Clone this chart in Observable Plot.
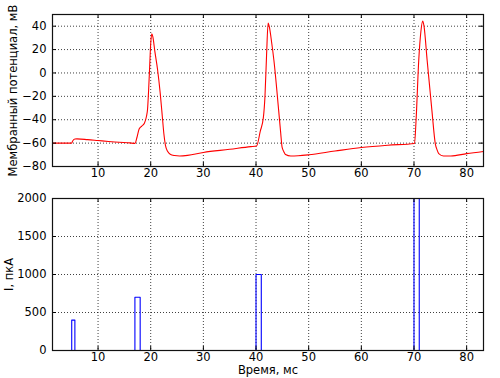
<!DOCTYPE html>
<html>
<head>
<meta charset="utf-8">
<script src="https://cdn.jsdelivr.net/npm/d3@7"></script>
<script src="https://cdn.jsdelivr.net/npm/@observablehq/plot@0.6"></script>
<style>
  html, body { margin: 0; padding: 0; background: white; }
  #chart svg { display: block; }
</style>
</head>
<body>
<div id="chart"></div>
<script>
// Membrane potential trace (time in ms, potential in mV)
const tV = [1.35, 5.0, 5.15, 5.6, 6, 8, 10, 12, 14, 16, 17.0, 17.4, 17.8, 18.3, 18.8, 19.2, 19.4, 19.6, 19.8, 20.0, 20.2, 20.4, 20.8, 21.3, 21.8, 22.2, 22.5, 22.8, 23.2, 23.7, 24.5, 25.5, 27, 30, 35, 39, 40.1,
  40.8, 41.4, 41.7, 42.0, 42.3, 42.5, 43.0, 43.4, 44.3, 44.7, 44.95, 45.3, 45.6, 46.6, 48, 50, 55, 60, 65, 70.1,
  70.4, 70.9, 71.3, 71.65, 71.9, 72.5, 73.4, 74.05, 74.4, 74.7, 75.6, 77, 80, 83.2];
const V = [-60, -60, -58.5, -56.5, -56.4, -57, -57.8, -58.6, -59.3, -59.8, -60.2, -55, -48, -45.5, -43, -37, -31, -15, 5, 25, 33.5, 31, 18, 3, -17, -37, -52, -62, -67, -69.5, -70.6, -71, -70.5, -68, -65.3, -63, -62.5,
  -50, -38, -20, 15, 42.6, 40, 25, 10.7, -32, -52, -63.5, -67.5, -69.7, -71, -70.8, -70, -66.8, -63.8, -61.8, -60.3,
  -40, 10.7, 35, 44.3, 40, 10.7, -32, -60.6, -66, -69, -71, -71, -69, -67.2];

// Injected current (step function, pA)
const tI = [1.35, 5.0, 5.6, 17, 18, 40, 41, 70, 71, 83.2];
const I = [0, 400, 0, 700, 0, 1000, 0, 2000, 0, 0];

// Ticks and labels
const xTicks = [10, 20, 30, 40, 50, 60, 70, 80];
const vTicks = [-80, -60, -40, -20, 0, 20, 40];
const iTicks = [0, 500, 1000, 1500, 2000];
const xDomain = [1.35, 83.2];
const vDomain = [-80, 50];
const iDomain = [0, 2000];
const vLabel = "Мембранный потенциал, мВ";
const iLabel = "I, пкА";
const xLabel = "Время, мс";

const vData = tV.map((t, i) => ({t, v: V[i]}));
const iData = tI.map((t, i) => ({t, v: I[i]}));

const W = 500;
const gridStyle = {stroke: "black", strokeOpacity: 0.75, strokeDasharray: "1,2", strokeWidth: 1};
const baseStyle = {fontFamily: "DejaVu Sans, sans-serif", fontSize: "11px", background: "white", color: "black", overflow: "visible"};
const fmt = d3.format("d");

function panel({height, marginTop, marginBottom, data, yDomain, yTicks, color, curve, yLabel, yLabelDx, withX}) {
  const frameH = height - marginTop - marginBottom;
  const frameW = W - 52 - 17;
  return Plot.plot({
    width: W,
    height,
    marginLeft: 52,
    marginRight: 17,
    marginTop,
    marginBottom,
    style: baseStyle,
    x: {domain: xDomain},
    y: {domain: yDomain},
    marks: [
      Plot.ruleX(xTicks, {x: d => d, ...gridStyle}),
      Plot.ruleY(yTicks, {y: d => d, ...gridStyle}),
      Plot.line(data, {x: "t", y: "v", stroke: color, strokeWidth: 1.1, curve}),
      // inward ticks on all four sides
      Plot.tickX(xTicks, {x: d => d, insetTop: frameH - 4, stroke: "black"}),
      Plot.tickX(xTicks, {x: d => d, insetBottom: frameH - 4, stroke: "black"}),
      Plot.tickY(yTicks, {y: d => d, insetRight: frameW - 4, stroke: "black"}),
      Plot.tickY(yTicks, {y: d => d, insetLeft: frameW - 4, stroke: "black"}),
      Plot.axisX({ticks: xTicks, tickSize: 0, tickPadding: 2, label: null, fontSize: 11.5, tickFormat: fmt}),
      Plot.axisY({ticks: yTicks, tickSize: 0, tickPadding: 6, label: null, fontSize: 11.5, tickFormat: fmt}),
      Plot.text([yLabel], {frameAnchor: "left", rotate: -90, dx: yLabelDx, textAnchor: "middle", text: d => d, fontSize: 11.5, fill: "black"}),
      withX ? Plot.text([xLabel], {frameAnchor: "bottom", dy: 23, textAnchor: "middle", text: d => d, fontSize: 11.5, fill: "black"}) : null,
      Plot.frame({stroke: "#111", strokeWidth: 1.2})
    ]
  });
}

const topPanel = panel({height: 185, marginTop: 14, marginBottom: 19, data: vData, yDomain: vDomain, yTicks: vTicks,
  color: "#ff0000", curve: "monotone-x", yLabel: vLabel, yLabelDx: -39, withX: false});
const bottomPanel = panel({height: 193, marginTop: 13, marginBottom: 28, data: iData, yDomain: iDomain, yTicks: iTicks,
  color: "#0000ff", curve: "step-after", yLabel: iLabel, yLabelDx: -43, withX: true});

const chart = document.getElementById("chart");
chart.appendChild(topPanel);
chart.appendChild(bottomPanel);
</script>
</body>
</html>
